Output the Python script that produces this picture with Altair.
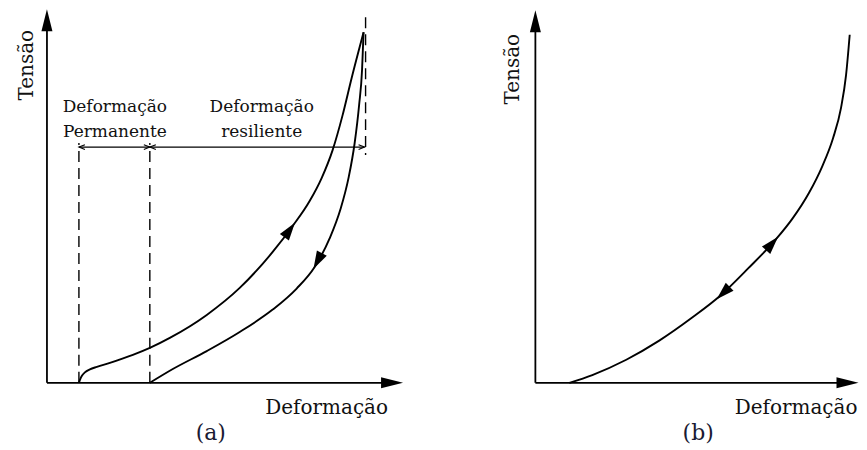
import altair as alt
import pandas as pd

FONT = "DejaVu Serif"

# ---------------- Panel (a): loading / unloading loop (units)
a_load_x = [32, 33, 35, 38, 43, 50, 63, 86, 103, 123, 160, 193, 226, 246, 263, 275, 286, 296, 305, 317]
a_load_y = [0, 3, 7, 10.5, 13.5, 16, 20, 28, 35, 45, 68, 95, 131, 157, 182, 205, 233, 268, 305, 351]
a_unload_x = [103, 126, 160, 193, 226, 250, 268, 283, 294, 302, 308, 312.5, 315.5, 316.7, 317]
a_unload_y = [0, 13.8, 31.8, 50.9, 73.3, 94.4, 116, 144.5, 174.2, 205.4, 239.6, 277.9, 313.9, 343.9, 351]

# direction arrowheads on the curves (x, y, angle)
a_curve_arrow_x = [243, 271]
a_curve_arrow_y = [153, 122]
a_curve_arrow_angle = [36, 208]

# guide lines: permanent strain limit, resilient strain limits
a_guide_x = [32, 103]
a_guide_top = 240
a_peak_x = 319
a_peak_y = [366, 228]
a_dim_y = 236

a_labels = ["Deformação", "Permanente", "Deformação", "resiliente"]
a_labels_x = [68, 68, 215, 215]
a_labels_y = [271, 246.5, 271, 246.5]

# ---------------- Panel (b): resilient curve
b_x = [34, 57, 91, 124, 157, 185, 213, 241, 257, 274, 287, 298, 306, 311, 314.7]
b_y = [0, 7.8, 23.1, 42.2, 65.3, 87.1, 114.5, 143.9, 163.9, 190.3, 216.3, 244.9, 275.3, 307.8, 348.5]
b_curve_arrow_x = [237, 188]
b_curve_arrow_y = [139.5, 90]
b_curve_arrow_angle = [42, 226]

axis_title_x = "Deformação"
axis_title_y = "Tensão"
panel_tags = ["(a)", "(b)"]

TRI = "M0,-1L0.62,1L-0.62,1Z"
CHEV = "M-1,-0.8L1,0L-1,0.8"


def panel(xdom, ydom, width, height, curves, arrows, axis_len, tag, tag_x, xlabel_x,
          ylabel_x, ylabel_y, extras):
    xs = alt.Scale(domain=xdom, nice=False, zero=False)
    ys = alt.Scale(domain=ydom, nice=False, zero=False)
    X = lambda f: alt.X(f, type="quantitative", scale=xs, axis=None)
    Y = lambda f: alt.Y(f, type="quantitative", scale=ys, axis=None)

    # axes as arrows
    ax_df = pd.DataFrame({
        "x": [0, 0], "y": [0, 0],
        "x2": [axis_len[0] - 10, 0], "y2": [0, axis_len[1] - 10],
    })
    axes = alt.Chart(ax_df).mark_rule(color="black", strokeWidth=1.8).encode(
        x=X("x"), y=Y("y"), x2="x2", y2="y2")
    ah_df = pd.DataFrame({"x": [axis_len[0] - 10.5, 0], "y": [0, axis_len[1] - 11],
                          "angle": [90, 0]})
    ax_heads = alt.Chart(ah_df).mark_point(
        shape="M0,-1L0.5,1L-0.5,1Z", size=484, filled=True, opacity=1, color="black",
        strokeWidth=0).encode(x=X("x"), y=Y("y"), angle=alt.Angle("angle:Q", scale=None))

    line = alt.Chart(curves).mark_line(
        color="black", strokeWidth=1.9, interpolate="monotone").encode(
        x=X("x"), y=Y("y"), detail="curve:N", order="i:Q")
    heads = alt.Chart(arrows).mark_point(
        shape=TRI, size=324, filled=True, opacity=1, color="black", strokeWidth=0
    ).encode(x=X("x"), y=Y("y"), angle=alt.Angle("angle:Q", scale=None))

    txt_df = pd.DataFrame({"t": [axis_title_x], "x": [xlabel_x], "y": [-31]})
    txts = alt.Chart(txt_df).mark_text(
        font=FONT, fontSize=20, color="#111", align="center", baseline="alphabetic"
    ).encode(x=X("x"), y=Y("y"), text="t:N")
    tag_t = alt.Chart(pd.DataFrame({"t": [tag], "x": [tag_x], "y": [-57]})).mark_text(
        font=FONT, fontSize=22, color="#1a1a33", align="center", baseline="alphabetic"
    ).encode(x=X("x"), y=Y("y"), text="t:N")
    yl = alt.Chart(pd.DataFrame({"t": [axis_title_y], "x": [ylabel_x], "y": [ylabel_y]})).mark_text(
        font=FONT, fontSize=20, color="#111", align="center", baseline="alphabetic", angle=270
    ).encode(x=X("x"), y=Y("y"), text="t:N")

    layers = [axes, ax_heads] + [e(X, Y) for e in extras] + [line, heads, txts, tag_t, yl]
    return alt.layer(*layers).properties(width=width, height=height)


# ---- panel (a) data tables
curves_a = pd.DataFrame({
    "x": a_load_x + a_unload_x,
    "y": a_load_y + a_unload_y,
    "curve": ["load"] * len(a_load_x) + ["unload"] * len(a_unload_x),
    "i": list(range(len(a_load_x))) + list(range(len(a_unload_x))),
})
arrows_a = pd.DataFrame({"x": a_curve_arrow_x, "y": a_curve_arrow_y, "angle": a_curve_arrow_angle})


def a_extras_dashed(X, Y):
    df = pd.DataFrame({"x": a_guide_x + [a_peak_x], "y": [0, 0, a_peak_y[0]],
                       "y2": [a_guide_top, a_guide_top, a_peak_y[1]]})
    return alt.Chart(df).mark_rule(color="black", strokeWidth=1.4, strokeDash=[11, 6]).encode(
        x=X("x"), y=Y("y"), y2="y2")


def a_extras_dim(X, Y):
    df = pd.DataFrame({"x": [a_guide_x[0], a_guide_x[1]], "x2": [a_guide_x[1], a_peak_x - 1],
                       "y": [a_dim_y, a_dim_y]})
    return alt.Chart(df).mark_rule(color="black", strokeWidth=1.1).encode(
        x=X("x"), x2="x2", y=Y("y"))


def a_extras_chev(X, Y):
    df = pd.DataFrame({"x": [a_guide_x[0] + 3, a_guide_x[1] - 3, a_guide_x[1] + 3, a_peak_x - 4],
                       "y": [a_dim_y] * 4, "angle": [180, 0, 180, 0]})
    return alt.Chart(df).mark_point(shape=CHEV, size=36, filled=False, opacity=1,
                                    color="black", strokeWidth=1.1).encode(
        x=X("x"), y=Y("y"), angle=alt.Angle("angle:Q", scale=None))


def a_extras_text(X, Y):
    df = pd.DataFrame({"t": a_labels, "x": a_labels_x, "y": a_labels_y})
    return alt.Chart(df).mark_text(font=FONT, fontSize=17, color="#111", align="center",
                                   baseline="alphabetic").encode(x=X("x"), y=Y("y"), text="t:N")


H = 442
chart_a = panel([-39, 393], [-67, 375], 432, H, curves_a, arrows_a, (356, 374), panel_tags[0],
                164, 280, -14, 318, [a_extras_dashed, a_extras_dim, a_extras_chev, a_extras_text])

curves_b = pd.DataFrame({"x": b_x, "y": b_y, "curve": ["b"] * len(b_x), "i": list(range(len(b_x)))})
arrows_b = pd.DataFrame({"x": b_curve_arrow_x, "y": b_curve_arrow_y, "angle": b_curve_arrow_angle})
chart_b = panel([-96, 323], [-67, 375], 419, H, curves_b, arrows_b, (323, 373), panel_tags[1],
                163, 261, -16, 314, [])

chart = alt.hconcat(chart_a, chart_b, spacing=0).properties(padding=0).configure_view(stroke=None)
chart.save("out.html", embed_options={"renderer": "svg", "actions": False})
